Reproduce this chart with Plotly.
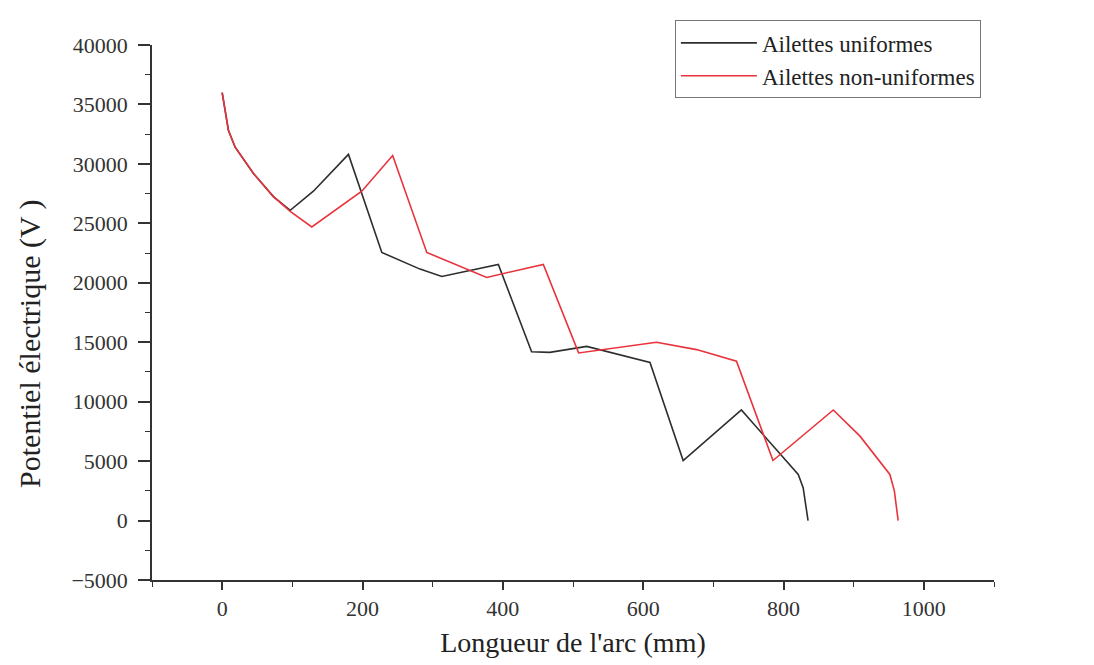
import plotly.graph_objects as go

# Data
uni_x = [0, 9, 18.5, 44.6, 73, 97, 130, 180, 227.5, 282, 313, 393.6, 441, 467, 519.5, 609.7, 657, 740, 821, 828, 835]
uni_y = [36000, 32800, 31400, 29200, 27250, 26100, 27700, 30800, 22550, 21150, 20530, 21550, 14200, 14150, 14650, 13300, 5050, 9300, 3875, 2770, 0]

non_x = [0, 9, 18.5, 44.6, 73, 97, 127.7, 199, 243, 291.6, 377, 457.7, 508, 619, 676, 733, 785, 871, 909, 951.6, 958, 963.4]
non_y = [36000, 32800, 31400, 29200, 27250, 26000, 24700, 27700, 30700, 22550, 20450, 21550, 14100, 15000, 14380, 13400, 5050, 9300, 7100, 3875, 2500, 0]

x_ticks = [0, 200, 400, 600, 800, 1000]
y_ticks = [-5000, 0, 5000, 10000, 15000, 20000, 25000, 30000, 35000, 40000]

names = ["Ailettes uniformes", "Ailettes non-uniformes"]
colors = ["#2e2e2e", "#e8333c"]

FONT = "Liberation Serif, Times New Roman, serif"

fig = go.Figure()
fig.add_trace(go.Scatter(x=uni_x, y=uni_y, mode="lines", name=names[0],
                         line=dict(color=colors[0], width=1.6)))
fig.add_trace(go.Scatter(x=non_x, y=non_y, mode="lines", name=names[1],
                         line=dict(color=colors[1], width=1.6)))

axis_common = dict(
    showgrid=False, zeroline=False, showline=True, linecolor="#333333", linewidth=1.6,
    ticks="outside", tickcolor="#333333", tickwidth=1.5,
    tickfont=dict(family=FONT, size=22, color="#333333"),
    mirror=False, automargin=False,
)

# margins compensate for the 8px page margin of the written html page
fig.update_layout(
    width=1094, height=665,
    margin=dict(l=144, r=108, t=30, b=93),
    paper_bgcolor="white", plot_bgcolor="white",
    font=dict(family=FONT, color="#222222"),
    showlegend=True,
    legend=dict(
        x=0.621, y=1.046, xanchor="left", yanchor="top",
        bgcolor="white", bordercolor="#777777", borderwidth=1,
        font=dict(family=FONT, size=23, color="#222222"),
        itemwidth=76, tracegroupgap=0,
    ),
    xaxis=dict(
        range=[-100, 1100], tickvals=x_ticks, ticktext=[str(v) for v in x_ticks],
        ticklen=8,
        minor=dict(dtick=100, ticklen=5, ticks="outside", tickcolor="#333333", tickwidth=1.2),
        title=dict(text="Longueur de l'arc (mm)", font=dict(family=FONT, size=28, color="#222222"), standoff=12),
        **axis_common,
    ),
    yaxis=dict(
        range=[-5000, 40000], tickvals=y_ticks, ticktext=["\u22125000"] + [str(v) for v in y_ticks[1:]],
        ticklen=12, ticklabelstandoff=6,
        minor=dict(dtick=2500, ticklen=5, ticks="outside", tickcolor="#333333", tickwidth=1.2),
        **axis_common,
    ),
    annotations=[dict(
        text="Potentiel électrique (V )", textangle=-90,
        xref="paper", yref="paper", x=-0.145, y=0.443, xanchor="center", yanchor="middle",
        showarrow=False, font=dict(family=FONT, size=30, color="#222222"),
    )],
)

fig.write_html("out.html")
